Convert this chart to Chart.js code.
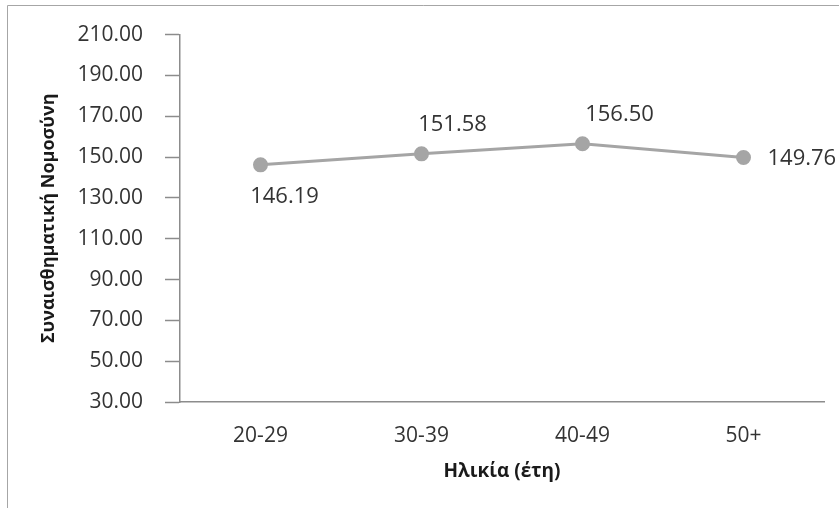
<!DOCTYPE html>
<html>
<head>
<meta charset="utf-8">
<script src="https://cdn.jsdelivr.net/npm/chart.js@4.4.1/dist/chart.umd.min.js"></script>
<style>
  html, body { margin: 0; padding: 0; background: #ffffff; }
  #wrap { position: relative; width: 839px; height: 508px; }
</style>
</head>
<body>
<div id="wrap"><canvas id="c" width="839" height="508"></canvas></div>
<script>
const categories = ['20-29', '30-39', '40-49', '50+'];
const values = [146.19, 151.58, 156.50, 149.76];
const yTicks = [30, 50, 70, 90, 110, 130, 150, 170, 190, 210];
const xTitle = 'Ηλικία (έτη)';
const yTitle = 'Συναισθηματική Νομοσύνη';

// label offsets relative to each point (style only)
const labelStyle = [
  { align: 'center', dx: 24, dy: 32 },
  { align: 'center', dx: 31, dy: -29 },
  { align: 'center', dx: 37, dy: -29 },
  { align: 'left', dx: 24, dy: 1 }
];

const frame = {
  id: 'frame',
  beforeDraw(chart) {
    const ctx = chart.ctx;
    ctx.save();
    ctx.strokeStyle = '#a6a6a6';
    ctx.lineWidth = 1;
    ctx.beginPath();
    ctx.moveTo(7.5, 508);
    ctx.lineTo(7.5, 5.5);
    ctx.lineTo(839, 5.5);
    ctx.stroke();
    ctx.restore();
  }
};

const pointLabels = {
  id: 'pointLabels',
  afterDatasetsDraw(chart) {
    const ctx = chart.ctx;
    const meta = chart.getDatasetMeta(0);
    ctx.save();
    ctx.font = '22px "Open Sans"';
    ctx.fillStyle = '#333333';
    ctx.textBaseline = 'middle';
    meta.data.forEach((pt, i) => {
      const s = labelStyle[i];
      ctx.textAlign = s.align;
      ctx.fillText(values[i].toFixed(2), pt.x + s.dx, pt.y + s.dy);
    });
    ctx.restore();
  }
};

new Chart(document.getElementById('c'), {
  type: 'line',
  data: {
    labels: categories,
    datasets: [{
      data: values,
      borderColor: '#a5a5a5',
      backgroundColor: '#a5a5a5',
      borderWidth: 3,
      pointRadius: 6,
      pointHoverRadius: 6,
      pointBackgroundColor: '#a5a5a5',
      pointBorderColor: '#a5a5a5',
      tension: 0,
      fill: false
    }]
  },
  options: {
    responsive: false,
    animation: false,
    events: [],
    layout: { padding: { left: 30, top: 31, right: 15, bottom: 0 } },
    plugins: { legend: { display: false }, tooltip: { enabled: false } },
    scales: {
      x: {
        type: 'category',
        offset: true,
        grid: { display: true, drawOnChartArea: false, drawTicks: false },
        border: { display: true, color: '#8c8c8c', width: 1.5 },
        ticks: { color: '#333333', font: { family: 'Open Sans', size: 21 }, padding: 21, maxRotation: 0 },
        title: { display: true, text: xTitle, color: '#1a1a1a', font: { family: 'Open Sans', size: 19, weight: 'bold' }, padding: { top: 0, bottom: 25 } },
        afterFit(s) { s.height = 106; }
      },
      y: {
        min: 30,
        max: 210,
        afterBuildTicks(s) { s.ticks = yTicks.map(v => ({ value: v })); },
        grid: { display: true, drawOnChartArea: false, drawTicks: true, tickLength: 15, tickColor: '#8c8c8c', tickWidth: 1.5 },
        border: { display: true, color: '#8c8c8c', width: 1.5 },
        ticks: { color: '#333333', font: { family: 'Open Sans', size: 21 }, padding: 22, callback: v => Number(v).toFixed(2) },
        title: { display: true, text: yTitle, color: '#1a1a1a', font: { family: 'Open Sans', size: 18, weight: 'bold' }, padding: { top: 8, bottom: 0 } },
        afterFit(s) { s.width = 150; }
      }
    }
  },
  plugins: [frame, pointLabels]
});
</script>
</body>
</html>
